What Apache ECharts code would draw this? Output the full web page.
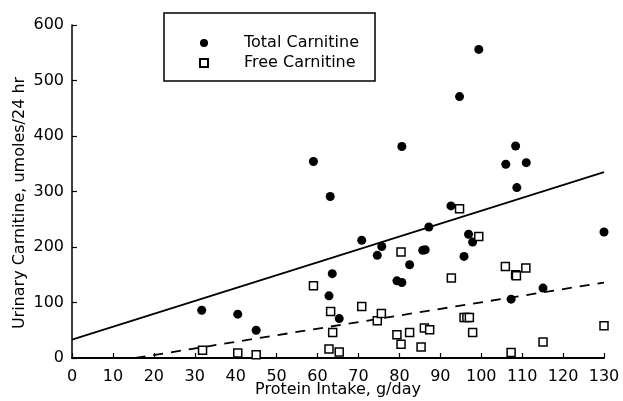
<!DOCTYPE html>
<html>
<head>
<meta charset="utf-8">
<script src="https://cdn.jsdelivr.net/npm/echarts@6/dist/echarts.min.js"></script>
<style>
html,body{margin:0;padding:0;background:#fff;}
#c{width:623px;height:401px;}
</style>
</head>
<body>
<div id="c"></div>
<script>
// Protein intake (g/day) and total carnitine (umoles/24 hr)
const totalX = [31.7, 40.5, 45, 59, 62.8, 63.1, 63.6, 65.3, 70.8, 74.6, 75.7, 79.4, 80.6, 80.6, 82.5, 85.7, 86.3, 87.2, 92.6, 94.7, 95.8, 96.9, 97.9, 99.4, 106, 107.3, 108.4, 108.7, 111, 115.1, 130];
const totalY = [86, 79, 50, 354, 112, 291, 152, 71, 212, 185, 201, 139, 136, 381, 168, 194, 195, 236, 274, 471, 183, 223, 209, 556, 349, 106, 382, 307, 352, 126, 227];
// Protein intake (g/day) and free carnitine (umoles/24 hr)
const freeX = [31.9, 40.5, 45, 59, 62.8, 63.2, 63.7, 65.3, 70.8, 74.6, 75.6, 79.4, 80.4, 80.4, 82.5, 85.3, 86.1, 87.4, 92.7, 94.7, 95.8, 96.5, 97.1, 97.9, 99.4, 105.9, 107.3, 108.4, 108.6, 110.9, 115.1, 130];
const freeY = [14, 9, 6, 130, 16, 84, 46, 11, 93, 67, 80, 42, 191, 25, 46, 20, 54, 51, 144, 269, 73, 73, 73, 46, 219, 165, 10, 150, 148, 162, 29, 58];
// Regression lines (end points)
const totalFitX = [0, 130];
const totalFitY = [33, 335];
const freeFitX = [15.5, 130];
const freeFitY = [0, 136];
// Axis ticks
const xTicks = {min: 0, max: 130, step: 10};
const yTicks = {min: 0, max: 600, step: 100};
const seriesNames = ['Total Carnitine', 'Free Carnitine'];
const xTitle = 'Protein Intake, g/day';
const yTitle = 'Urinary Carnitine, umoles/24 hr';

const zip = (a, b) => a.map((v, i) => [v, b[i]]);
const FONT = 'DejaVu Sans';

const chart = echarts.init(document.getElementById('c'), null, {renderer: 'canvas'});
chart.setOption({
  animation: false,
  backgroundColor: '#fff',
  grid: {left: 72, right: 19, top: 25, bottom: 43, containLabel: false, outerBoundsMode: 'none'},
  legend: {
    data: seriesNames,
    orient: 'vertical',
    left: 164,
    top: 13,
    padding: [22, 16, 10, 35],
    itemGap: 4,
    itemWidth: 8,
    itemHeight: 8,
    borderColor: '#000',
    borderWidth: 1.5,
    borderRadius: 0,
    backgroundColor: '#fff',
    textStyle: {fontFamily: FONT, fontSize: 16, color: '#000', lineHeight: 15, padding: [0, 0, 0, 31]}
  },
  xAxis: {
    type: 'value',
    min: xTicks.min, max: xTicks.max, interval: xTicks.step,
    axisLine: {show: true, onZero: false, lineStyle: {color: '#000', width: 2}},
    axisTick: {show: true, inside: true, length: 5, lineStyle: {color: '#000', width: 1.2}},
    axisLabel: {fontFamily: FONT, fontSize: 16, color: '#000', margin: 11},
    splitLine: {show: false}
  },
  yAxis: {
    type: 'value',
    min: yTicks.min, max: yTicks.max, interval: yTicks.step,
    axisLine: {show: true, onZero: false, lineStyle: {color: '#000', width: 1.5}},
    axisTick: {show: true, inside: true, length: 5, lineStyle: {color: '#000', width: 1.2}},
    axisLabel: {fontFamily: FONT, fontSize: 16, color: '#000', margin: 8},
    splitLine: {show: false}
  },
  graphic: [{
    type: 'text',
    rotation: Math.PI / 2,
    x: 20, y: 203,
    style: {
      text: yTitle,
      fontFamily: FONT, fontSize: 16, fill: '#000',
      textAlign: 'center', textVerticalAlign: 'middle'
    }
  }, {
    type: 'text',
    x: 338, y: 390,
    style: {
      text: xTitle,
      fontFamily: FONT, fontSize: 16, fill: '#000',
      textAlign: 'center', textVerticalAlign: 'middle'
    }
  }],
  series: [
    {
      name: seriesNames[0],
      type: 'scatter',
      symbol: 'circle',
      symbolSize: 9,
      clip: false,
      itemStyle: {color: '#000', opacity: 1},
      data: zip(totalX, totalY),
      z: 4
    },
    {
      name: seriesNames[1],
      type: 'scatter',
      symbol: 'rect',
      symbolSize: 8,
      clip: false,
      itemStyle: {color: '#fff', borderColor: '#000', borderWidth: 1.5, opacity: 1},
      data: zip(freeX, freeY),
      z: 5
    },
    {
      name: 'total fit',
      type: 'line',
      symbol: 'none',
      silent: true,
      lineStyle: {color: '#000', width: 1.8, type: 'solid'},
      data: zip(totalFitX, totalFitY),
      z: 3
    },
    {
      name: 'free fit',
      type: 'line',
      symbol: 'none',
      silent: true,
      lineStyle: {color: '#000', width: 1.8, type: [10, 8]},
      data: zip(freeFitX, freeFitY),
      z: 3
    }
  ]
});
</script>
</body>
</html>
